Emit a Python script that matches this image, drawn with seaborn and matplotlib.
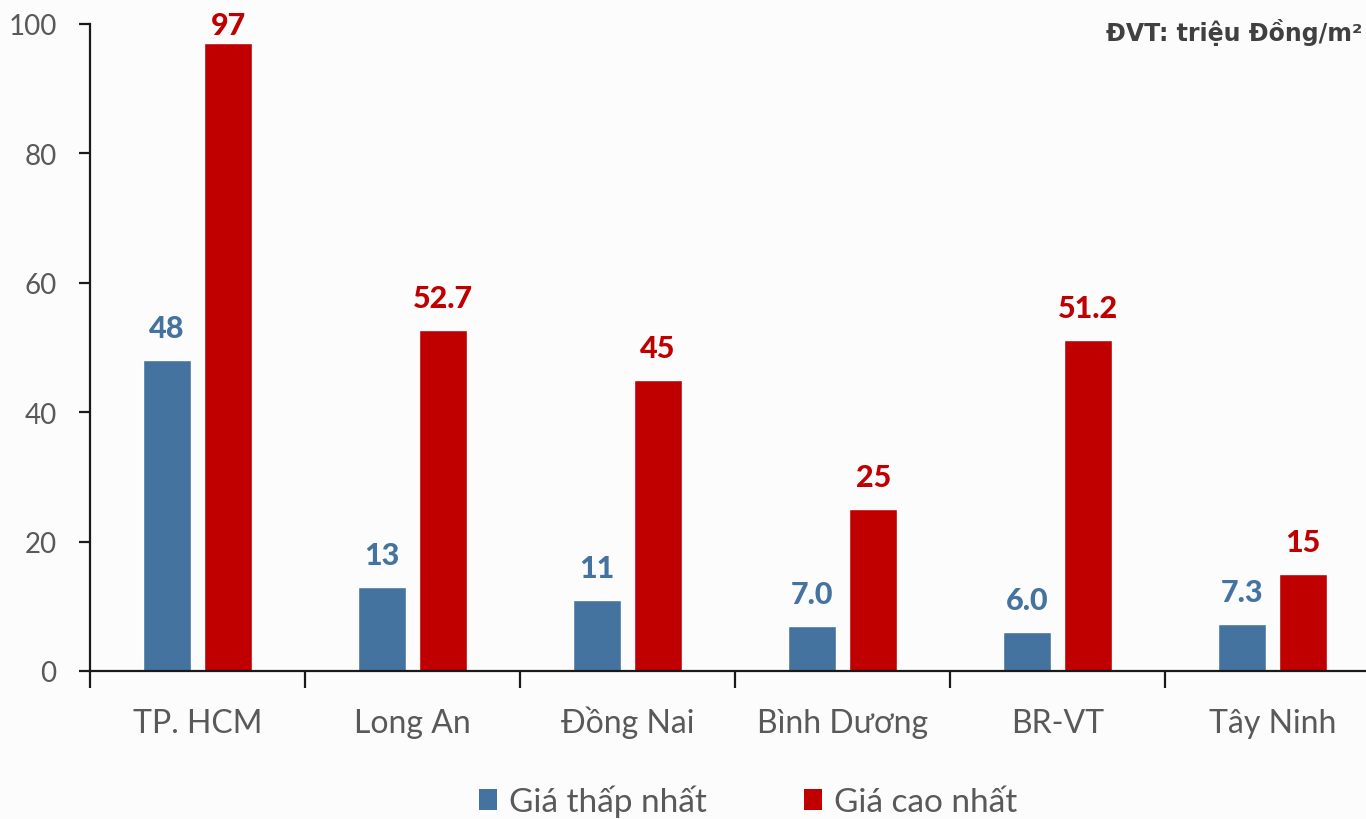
import matplotlib
matplotlib.use("Agg")
import matplotlib.pyplot as plt
import seaborn as sns
import pandas as pd
import numpy as np
from matplotlib.patches import Patch

categories = ["TP. HCM", "Long An", "Đồng Nai", "Bình Dương", "BR-VT", "Tây Ninh"]
series_names = ["Giá thấp nhất", "Giá cao nhất"]
low_values = [48, 13, 11, 7.0, 6.0, 7.3]
high_values = [97, 52.7, 45, 25, 51.2, 15]
low_labels = ["48", "13", "11", "7.0", "6.0", "7.3"]
high_labels = ["97", "52.7", "45", "25", "51.2", "15"]
y_ticks = [0, 20, 40, 60, 80, 100]
unit_text = "ĐVT: triệu Đồng/m²"

BLUE = "#44739F"
RED = "#C00000"
GRAY = "#595959"

df = pd.DataFrame({
    "cat": categories * 2,
    "series": [series_names[0]] * len(categories) + [series_names[1]] * len(categories),
    "value": low_values + high_values,
})

sns.set_theme(style="white")
plt.rcParams["font.family"] = ["Lato", "DejaVu Sans"]

fig = plt.figure(figsize=(13.66, 8.2), dpi=100)
fig.patch.set_facecolor("#FCFCFC")
ax = fig.add_axes([90 / 1366, 1 - 672 / 820, 1290 / 1366, (672 - 25) / 820])
ax.set_facecolor("none")

sns.barplot(data=df, x="cat", y="value", hue="series", order=categories,
            hue_order=series_names, palette=[BLUE, RED], width=0.57, gap=0.228,
            saturation=1, ax=ax, legend=False, errorbar=None)

ax.set_xlim(-0.5, len(categories) - 0.5)
ax.set_ylim(0, 100)
ax.set_yticks(y_ticks)
ax.set_xlabel("")
ax.set_ylabel("")

for s in ["top", "right"]:
    ax.spines[s].set_visible(False)
for s in ["left", "bottom"]:
    ax.spines[s].set_color("#1a1a1a")
    ax.spines[s].set_linewidth(1.6)

ax.tick_params(axis="y", which="major", left=True, length=8, width=1.6, color="#1a1a1a",
               labelsize=20, labelcolor=GRAY, pad=16)
ax.tick_params(axis="x", which="major", bottom=False, length=0, labelsize=23,
               labelcolor=GRAY, pad=44)
for t in ax.get_xticklabels():
    t.set_verticalalignment("baseline")
ax.set_xticks(np.arange(-0.5, len(categories) + 0.5, 1.0), minor=True)
ax.tick_params(axis="x", which="minor", bottom=True, length=12, width=1.6, color="#1a1a1a")

# value labels (anchor kept inside the top of the plot area, as in the reference)
containers = ax.containers
for cont, labels, col in zip(containers, [low_labels, high_labels], [BLUE, RED]):
    for bar, lab in zip(cont, labels):
        x = bar.get_x() + bar.get_width() / 2
        h = min(bar.get_height(), 94.9)
        ax.annotate(lab, (x, h), xytext=(0, 13), textcoords="offset points",
                    ha="center", va="bottom", fontsize=22, fontweight="black",
                    color=col, clip_on=False, annotation_clip=False)

fig.text(1362 / 1366, 1 - 33 / 820, unit_text, ha="right", va="center",
         fontsize=17, fontweight="bold", color="#404040", family="DejaVu Sans")

handles = [Patch(facecolor=BLUE, edgecolor="none"), Patch(facecolor=RED, edgecolor="none")]
fig.legend(handles, series_names, loc="center", bbox_to_anchor=(748 / 1366, 1 - 802 / 820),
           ncol=2, frameon=False, fontsize=24, labelcolor=GRAY, handlelength=0.55,
           handleheight=0.55, handletextpad=0.35, columnspacing=2.9)

fig.savefig("out.png", dpi=100, facecolor=fig.get_facecolor())
